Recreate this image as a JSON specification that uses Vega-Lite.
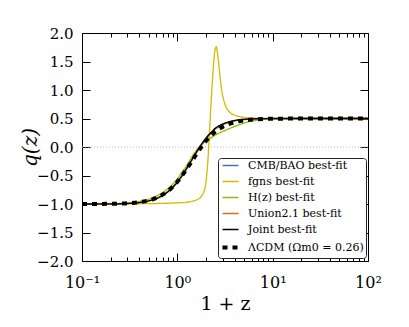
{
  "$schema": "https://vega.github.io/schema/vega-lite/v6.json",
  "width": 286,
  "height": 228,
  "autosize": {"type": "none"},
  "padding": {"left": 82, "top": 33, "right": 41, "bottom": 66},
  "config": {
    "font": "DejaVu Serif",
    "view": {"stroke": null},
    "axis": {"domainColor": "black", "tickColor": "black", "labelColor": "black", "titleColor": "black", "grid": false, "labelFont": "DejaVu Serif", "titleFont": "DejaVu Serif", "titleFontWeight": "normal"},
    "legend": {"title": null, "orient": "none", "legendX": 136, "legendY": 125, "symbolType": "stroke", "symbolSize": 256,
      "labelFont": "DejaVu Serif", "labelFontSize": 11, "labelColor": "black", "rowPadding": 4, "padding": 2, "symbolOffset": 5, "labelOffset": 12,
      "fillColor": "white", "strokeColor": "#222222", "cornerRadius": 3}
  },
  "datasets": {
    "curves": [
      {"series": "CMB/BAO best-fit", "x": 0.1, "q": -1.0},
      {"series": "CMB/BAO best-fit", "x": 0.1995, "q": -0.998},
      {"series": "CMB/BAO best-fit", "x": 0.3162, "q": -0.99},
      {"series": "CMB/BAO best-fit", "x": 0.3981, "q": -0.976},
      {"series": "CMB/BAO best-fit", "x": 0.5012, "q": -0.947},
      {"series": "CMB/BAO best-fit", "x": 0.631, "q": -0.893},
      {"series": "CMB/BAO best-fit", "x": 0.7943, "q": -0.79},
      {"series": "CMB/BAO best-fit", "x": 1.0, "q": -0.62},
      {"series": "CMB/BAO best-fit", "x": 1.122, "q": -0.51},
      {"series": "CMB/BAO best-fit", "x": 1.259, "q": -0.375},
      {"series": "CMB/BAO best-fit", "x": 1.413, "q": -0.235},
      {"series": "CMB/BAO best-fit", "x": 1.585, "q": -0.095},
      {"series": "CMB/BAO best-fit", "x": 1.778, "q": 0.035},
      {"series": "CMB/BAO best-fit", "x": 1.995, "q": 0.15},
      {"series": "CMB/BAO best-fit", "x": 2.239, "q": 0.245},
      {"series": "CMB/BAO best-fit", "x": 2.512, "q": 0.325},
      {"series": "CMB/BAO best-fit", "x": 3.162, "q": 0.415},
      {"series": "CMB/BAO best-fit", "x": 3.981, "q": 0.462},
      {"series": "CMB/BAO best-fit", "x": 5.012, "q": 0.483},
      {"series": "CMB/BAO best-fit", "x": 6.31, "q": 0.493},
      {"series": "CMB/BAO best-fit", "x": 7.943, "q": 0.497},
      {"series": "CMB/BAO best-fit", "x": 10, "q": 0.499},
      {"series": "CMB/BAO best-fit", "x": 31.62, "q": 0.5},
      {"series": "CMB/BAO best-fit", "x": 100, "q": 0.5},

      {"series": "fgns best-fit", "x": 0.1, "q": -1.0},
      {"series": "fgns best-fit", "x": 0.3162, "q": -0.997},
      {"series": "fgns best-fit", "x": 0.631, "q": -0.99},
      {"series": "fgns best-fit", "x": 1.0, "q": -0.98},
      {"series": "fgns best-fit", "x": 1.259, "q": -0.97},
      {"series": "fgns best-fit", "x": 1.413, "q": -0.955},
      {"series": "fgns best-fit", "x": 1.585, "q": -0.93},
      {"series": "fgns best-fit", "x": 1.778, "q": -0.87},
      {"series": "fgns best-fit", "x": 1.905, "q": -0.78},
      {"series": "fgns best-fit", "x": 1.995, "q": -0.62},
      {"series": "fgns best-fit", "x": 2.089, "q": -0.25},
      {"series": "fgns best-fit", "x": 2.188, "q": 0.35},
      {"series": "fgns best-fit", "x": 2.291, "q": 0.95},
      {"series": "fgns best-fit", "x": 2.399, "q": 1.45},
      {"series": "fgns best-fit", "x": 2.483, "q": 1.7},
      {"series": "fgns best-fit", "x": 2.57, "q": 1.76},
      {"series": "fgns best-fit", "x": 2.6, "q": 1.72},
      {"series": "fgns best-fit", "x": 2.692, "q": 1.52},
      {"series": "fgns best-fit", "x": 2.818, "q": 1.2},
      {"series": "fgns best-fit", "x": 2.951, "q": 0.95},
      {"series": "fgns best-fit", "x": 3.162, "q": 0.75},
      {"series": "fgns best-fit", "x": 3.548, "q": 0.61},
      {"series": "fgns best-fit", "x": 3.981, "q": 0.56},
      {"series": "fgns best-fit", "x": 5.012, "q": 0.52},
      {"series": "fgns best-fit", "x": 6.31, "q": 0.505},
      {"series": "fgns best-fit", "x": 10, "q": 0.5},
      {"series": "fgns best-fit", "x": 100, "q": 0.5},

      {"series": "H(z) best-fit", "x": 0.1, "q": -1.0},
      {"series": "H(z) best-fit", "x": 0.1995, "q": -0.995},
      {"series": "H(z) best-fit", "x": 0.3162, "q": -0.98},
      {"series": "H(z) best-fit", "x": 0.3981, "q": -0.955},
      {"series": "H(z) best-fit", "x": 0.5012, "q": -0.915},
      {"series": "H(z) best-fit", "x": 0.631, "q": -0.845},
      {"series": "H(z) best-fit", "x": 0.7943, "q": -0.73},
      {"series": "H(z) best-fit", "x": 1.0, "q": -0.56},
      {"series": "H(z) best-fit", "x": 1.122, "q": -0.44},
      {"series": "H(z) best-fit", "x": 1.259, "q": -0.32},
      {"series": "H(z) best-fit", "x": 1.413, "q": -0.18},
      {"series": "H(z) best-fit", "x": 1.585, "q": -0.06},
      {"series": "H(z) best-fit", "x": 1.778, "q": 0.03},
      {"series": "H(z) best-fit", "x": 1.995, "q": 0.1},
      {"series": "H(z) best-fit", "x": 2.239, "q": 0.16},
      {"series": "H(z) best-fit", "x": 2.512, "q": 0.21},
      {"series": "H(z) best-fit", "x": 3.162, "q": 0.29},
      {"series": "H(z) best-fit", "x": 3.981, "q": 0.36},
      {"series": "H(z) best-fit", "x": 5.012, "q": 0.42},
      {"series": "H(z) best-fit", "x": 6.31, "q": 0.46},
      {"series": "H(z) best-fit", "x": 7.943, "q": 0.483},
      {"series": "H(z) best-fit", "x": 10, "q": 0.494},
      {"series": "H(z) best-fit", "x": 31.62, "q": 0.5},
      {"series": "H(z) best-fit", "x": 100, "q": 0.5},

      {"series": "Union2.1 best-fit", "x": 0.1, "q": -1.0},
      {"series": "Union2.1 best-fit", "x": 0.1995, "q": -0.997},
      {"series": "Union2.1 best-fit", "x": 0.3162, "q": -0.987},
      {"series": "Union2.1 best-fit", "x": 0.3981, "q": -0.971},
      {"series": "Union2.1 best-fit", "x": 0.5012, "q": -0.94},
      {"series": "Union2.1 best-fit", "x": 0.631, "q": -0.883},
      {"series": "Union2.1 best-fit", "x": 0.7943, "q": -0.78},
      {"series": "Union2.1 best-fit", "x": 1.0, "q": -0.612},
      {"series": "Union2.1 best-fit", "x": 1.122, "q": -0.5},
      {"series": "Union2.1 best-fit", "x": 1.259, "q": -0.375},
      {"series": "Union2.1 best-fit", "x": 1.413, "q": -0.24},
      {"series": "Union2.1 best-fit", "x": 1.585, "q": -0.105},
      {"series": "Union2.1 best-fit", "x": 1.778, "q": 0.02},
      {"series": "Union2.1 best-fit", "x": 1.995, "q": 0.135},
      {"series": "Union2.1 best-fit", "x": 2.239, "q": 0.23},
      {"series": "Union2.1 best-fit", "x": 2.512, "q": 0.31},
      {"series": "Union2.1 best-fit", "x": 3.162, "q": 0.405},
      {"series": "Union2.1 best-fit", "x": 3.981, "q": 0.455},
      {"series": "Union2.1 best-fit", "x": 5.012, "q": 0.48},
      {"series": "Union2.1 best-fit", "x": 6.31, "q": 0.491},
      {"series": "Union2.1 best-fit", "x": 7.943, "q": 0.496},
      {"series": "Union2.1 best-fit", "x": 10, "q": 0.499},
      {"series": "Union2.1 best-fit", "x": 31.62, "q": 0.5},
      {"series": "Union2.1 best-fit", "x": 100, "q": 0.5},

      {"series": "Joint best-fit", "x": 0.1, "q": -1.0},
      {"series": "Joint best-fit", "x": 0.1995, "q": -0.998},
      {"series": "Joint best-fit", "x": 0.3162, "q": -0.99},
      {"series": "Joint best-fit", "x": 0.3981, "q": -0.975},
      {"series": "Joint best-fit", "x": 0.5012, "q": -0.945},
      {"series": "Joint best-fit", "x": 0.631, "q": -0.89},
      {"series": "Joint best-fit", "x": 0.7943, "q": -0.785},
      {"series": "Joint best-fit", "x": 1.0, "q": -0.615},
      {"series": "Joint best-fit", "x": 1.122, "q": -0.5},
      {"series": "Joint best-fit", "x": 1.259, "q": -0.37},
      {"series": "Joint best-fit", "x": 1.413, "q": -0.23},
      {"series": "Joint best-fit", "x": 1.585, "q": -0.09},
      {"series": "Joint best-fit", "x": 1.778, "q": 0.04},
      {"series": "Joint best-fit", "x": 1.995, "q": 0.155},
      {"series": "Joint best-fit", "x": 2.239, "q": 0.25},
      {"series": "Joint best-fit", "x": 2.512, "q": 0.33},
      {"series": "Joint best-fit", "x": 3.162, "q": 0.42},
      {"series": "Joint best-fit", "x": 3.981, "q": 0.465},
      {"series": "Joint best-fit", "x": 5.012, "q": 0.485},
      {"series": "Joint best-fit", "x": 6.31, "q": 0.494},
      {"series": "Joint best-fit", "x": 7.943, "q": 0.498},
      {"series": "Joint best-fit", "x": 10, "q": 0.5},
      {"series": "Joint best-fit", "x": 31.62, "q": 0.5},
      {"series": "Joint best-fit", "x": 100, "q": 0.5},

      {"series": "ΛCDM (Ωm0 = 0.26)", "x": 0.1, "q": -1.0},
      {"series": "ΛCDM (Ωm0 = 0.26)", "x": 0.1995, "q": -0.996},
      {"series": "ΛCDM (Ωm0 = 0.26)", "x": 0.3162, "q": -0.984},
      {"series": "ΛCDM (Ωm0 = 0.26)", "x": 0.3981, "q": -0.968},
      {"series": "ΛCDM (Ωm0 = 0.26)", "x": 0.5012, "q": -0.937},
      {"series": "ΛCDM (Ωm0 = 0.26)", "x": 0.631, "q": -0.878},
      {"series": "ΛCDM (Ωm0 = 0.26)", "x": 0.7943, "q": -0.775},
      {"series": "ΛCDM (Ωm0 = 0.26)", "x": 1.0, "q": -0.61},
      {"series": "ΛCDM (Ωm0 = 0.26)", "x": 1.122, "q": -0.502},
      {"series": "ΛCDM (Ωm0 = 0.26)", "x": 1.259, "q": -0.382},
      {"series": "ΛCDM (Ωm0 = 0.26)", "x": 1.413, "q": -0.254},
      {"series": "ΛCDM (Ωm0 = 0.26)", "x": 1.585, "q": -0.125},
      {"series": "ΛCDM (Ωm0 = 0.26)", "x": 1.778, "q": -0.004},
      {"series": "ΛCDM (Ωm0 = 0.26)", "x": 1.995, "q": 0.104},
      {"series": "ΛCDM (Ωm0 = 0.26)", "x": 2.239, "q": 0.196},
      {"series": "ΛCDM (Ωm0 = 0.26)", "x": 2.512, "q": 0.272},
      {"series": "ΛCDM (Ωm0 = 0.26)", "x": 3.162, "q": 0.376},
      {"series": "ΛCDM (Ωm0 = 0.26)", "x": 3.981, "q": 0.435},
      {"series": "ΛCDM (Ωm0 = 0.26)", "x": 5.012, "q": 0.467},
      {"series": "ΛCDM (Ωm0 = 0.26)", "x": 6.31, "q": 0.483},
      {"series": "ΛCDM (Ωm0 = 0.26)", "x": 7.943, "q": 0.492},
      {"series": "ΛCDM (Ωm0 = 0.26)", "x": 10, "q": 0.496},
      {"series": "ΛCDM (Ωm0 = 0.26)", "x": 31.62, "q": 0.4999},
      {"series": "ΛCDM (Ωm0 = 0.26)", "x": 100, "q": 0.5}
    ]
  },
  "resolve": {"axis": {"x": "independent", "y": "independent"}},
  "layer": [
    {
      "data": {"values": [{"x1": 0.1, "x2": 100, "q": 0}]},
      "mark": {"type": "rule", "color": "#bbbbbb", "strokeDash": [1, 2], "strokeWidth": 1},
      "encoding": {
        "x": {"field": "x1", "type": "quantitative", "scale": {"type": "log", "domain": [0.1, 100], "nice": false},
          "axis": {"orient": "top", "title": null, "labels": false, "domain": true,
            "values": [0.1,0.2,0.3,0.4,0.5,0.6,0.7,0.8,0.9,1,2,3,4,5,6,7,8,9,10,20,30,40,50,60,70,80,90,100],
            "tickSize": {"condition": {"test": "datum.value == 0.1 || datum.value == 1 || datum.value == 10 || datum.value == 100", "value": -8}, "value": -4}}},
        "x2": {"field": "x2"},
        "y": {"field": "q", "type": "quantitative", "scale": {"domain": [-2, 2], "nice": false, "zero": false},
          "axis": {"orient": "right", "title": null, "labels": false, "domain": true,
            "values": [-2,-1.5,-1,-0.5,0,0.5,1,1.5,2], "tickSize": -8}}
      }
    },
    {
      "data": {"name": "curves"},
      "mark": {"type": "line", "interpolate": "monotone", "clip": true},
      "encoding": {
        "x": {"field": "x", "type": "quantitative", "scale": {"type": "log", "domain": [0.1, 100], "nice": false},
          "axis": {"orient": "bottom", "title": "1 + z", "titleFontSize": 19, "titlePadding": 0,
            "values": [0.1,0.2,0.3,0.4,0.5,0.6,0.7,0.8,0.9,1,2,3,4,5,6,7,8,9,10,20,30,40,50,60,70,80,90,100],
            "labelExpr": "datum.value == 0.1 ? '10⁻¹' : datum.value == 1 ? '10⁰' : datum.value == 10 ? '10¹' : datum.value == 100 ? '10²' : ''",
            "labelOverlap": false, "labelFlush": false, "labelFontSize": 16, "labelPadding": 21,
            "tickSize": {"condition": {"test": "datum.value == 0.1 || datum.value == 1 || datum.value == 10 || datum.value == 100", "value": -8}, "value": -4}}},
        "y": {"field": "q", "type": "quantitative", "scale": {"domain": [-2, 2], "nice": false, "zero": false},
          "axis": {"orient": "left", "title": "q(z)", "titleFontSize": 20, "titleFontStyle": "italic",
            "titleX": -52, "titleY": 114, "titleBaseline": "middle",
            "values": [-2,-1.5,-1,-0.5,0,0.5,1,1.5,2], "format": ".1f", "labelFontSize": 15, "labelPadding": 17, "tickSize": -8}},
        "color": {"field": "series", "type": "nominal",
          "scale": {"domain": ["CMB/BAO best-fit", "fgns best-fit", "H(z) best-fit", "Union2.1 best-fit", "Joint best-fit", "ΛCDM (Ωm0 = 0.26)"],
            "range": ["#4c72b0", "#d8b800", "#8cbf00", "#e36c09", "#000000", "#000000"]},
          "legend": {"encode": {"symbols": {"update": {"strokeWidth": {"signal": "datum.value === 'ΛCDM (Ωm0 = 0.26)' ? 4 : 1.5"}}}}}},
        "strokeDash": {"field": "series", "type": "nominal",
          "scale": {"domain": ["CMB/BAO best-fit", "fgns best-fit", "H(z) best-fit", "Union2.1 best-fit", "Joint best-fit", "ΛCDM (Ωm0 = 0.26)"],
            "range": [[1, 0], [1, 0], [1, 0], [1, 0], [1, 0], [5, 5]]},
          "legend": {"encode": {"symbols": {"update": {"strokeWidth": {"signal": "datum.value === 'ΛCDM (Ωm0 = 0.26)' ? 4 : 1.5"}}}}}},
        "strokeWidth": {"condition": {"test": "datum.series === 'ΛCDM (Ωm0 = 0.26)'", "value": 4}, "value": 1.3}
      }
    }
  ]
}
